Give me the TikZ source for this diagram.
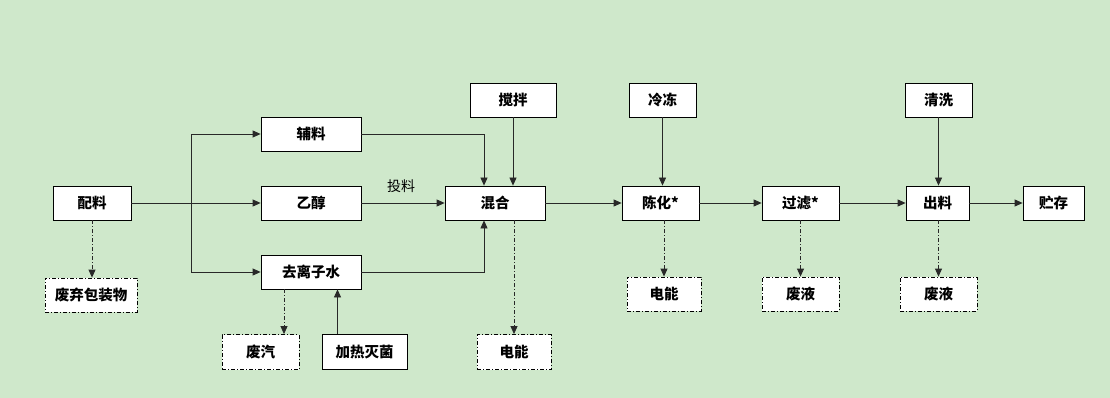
\documentclass[tikz,border=0pt]{standalone}
\usepackage{fontspec}
\newfontfamily\cjk{Noto Sans CJK SC}
\usetikzlibrary{arrows.meta,calc}
\definecolor{bg}{RGB}{207,232,203}
\definecolor{ln}{RGB}{40,40,40}
\tikzset{
  box/.style={draw=black,fill=white,line width=0.8pt,inner sep=0pt,font=\cjk\bfseries\fontsize{14.5}{16}\selectfont,minimum height=34pt},
  wbox/.style={box,dash pattern=on 4pt off 2pt on 1pt off 2pt},
  arr/.style={draw=ln,line width=0.8pt,-{Triangle[length=8pt,width=7pt]}},
  darr/.style={arr,dash pattern=on 4pt off 2pt on 1pt off 2pt},
}
\begin{document}
\begin{tikzpicture}[x=1pt,y=-1pt]
\fill[bg] (0,0) rectangle (1110,398);
\useasboundingbox (0,0) rectangle (1110,398);
% nodes
\node[box,minimum width=78pt] (pl) at (92,203) {配料};
\node[box,minimum width=100pt] (fl) at (311,134) {辅料};
\node[box,minimum width=100pt] (yc) at (311,203) {乙醇};
\node[box,minimum width=100pt] (qs) at (311,272) {去离子水};
\node[wbox,minimum width=92pt] (fq) at (91,295) {废弃包装物};
\node[wbox,minimum width=77pt,minimum height=35pt] (fqi) at (260.5,352) {废汽};
\node[box,minimum width=85pt,minimum height=35pt] (jr) at (364.5,352) {加热灭菌};
\node[box,minimum width=100pt] (hh) at (495,203) {混合};
\node[box,minimum width=86pt] (jb) at (513,100) {搅拌};
\node[wbox,minimum width=74pt,minimum height=35pt] (dn1) at (514,352) {电能};
\node[box,minimum width=77pt] (ch) at (660.5,203) {陈化*};
\node[box,minimum width=67pt] (ld) at (662.5,100) {冷冻};
\node[wbox,minimum width=74pt] (dn2) at (664,294) {电能};
\node[box,minimum width=77pt] (gl) at (800.5,203) {过滤*};
\node[wbox,minimum width=77pt] (fy1) at (800.5,294) {废液};
\node[box,minimum width=67pt] (qx) at (938.5,100) {清洗};
\node[box,minimum width=63pt] (cl) at (937.5,203) {出料};
\node[box,minimum width=61pt] (zc) at (1053.5,203) {贮存};
\node[wbox,minimum width=77pt] (fy2) at (938.5,294) {废液};
\node[font=\cjk\fontsize{14}{16}\selectfont] (tl) at (401,186) {投料};
% connectors
\coordinate (br) at (191,203);
\draw[arr] (pl.east) -- (yc.west);
\draw[arr] (br) |- (fl.west);
\draw[arr] (br) |- (qs.west);
\draw[darr] (pl.south) -- (pl.south |- fq.north);
\draw[darr] ($(qs.south)+(-27,0)$) -- ($(qs.south |- fqi.north)+(-27,0)$);
\draw[arr] ($(jr.north)+(-27,0)$) -- ($(jr.north |- qs.south)+(-27,0)$);
\draw[arr] (fl.east) -| ($(hh.north)+(-11,0)$);
\draw[arr] (qs.east) -| ($(hh.south)+(-11,0)$);
\draw[arr] (yc.east) -- (hh.west);
\draw[arr] (jb.south) -- (jb.south |- hh.north);
\draw[darr] (dn1.north |- hh.south) -- (dn1.north);
\draw[arr] (hh.east) -- (ch.west);
\draw[arr] (ld.south) -- (ld.south |- ch.north);
\draw[darr] (dn2.north |- ch.south) -- (dn2.north);
\draw[arr] (ch.east) -- (gl.west);
\draw[darr] (gl.south) -- (fy1.north);
\draw[arr] (gl.east) -- (cl.west);
\draw[arr] (qx.south) -- (qx.south |- cl.north);
\draw[darr] (fy2.north |- cl.south) -- (fy2.north);
\draw[arr] (cl.east) -- (zc.west);
\end{tikzpicture}
\end{document}
